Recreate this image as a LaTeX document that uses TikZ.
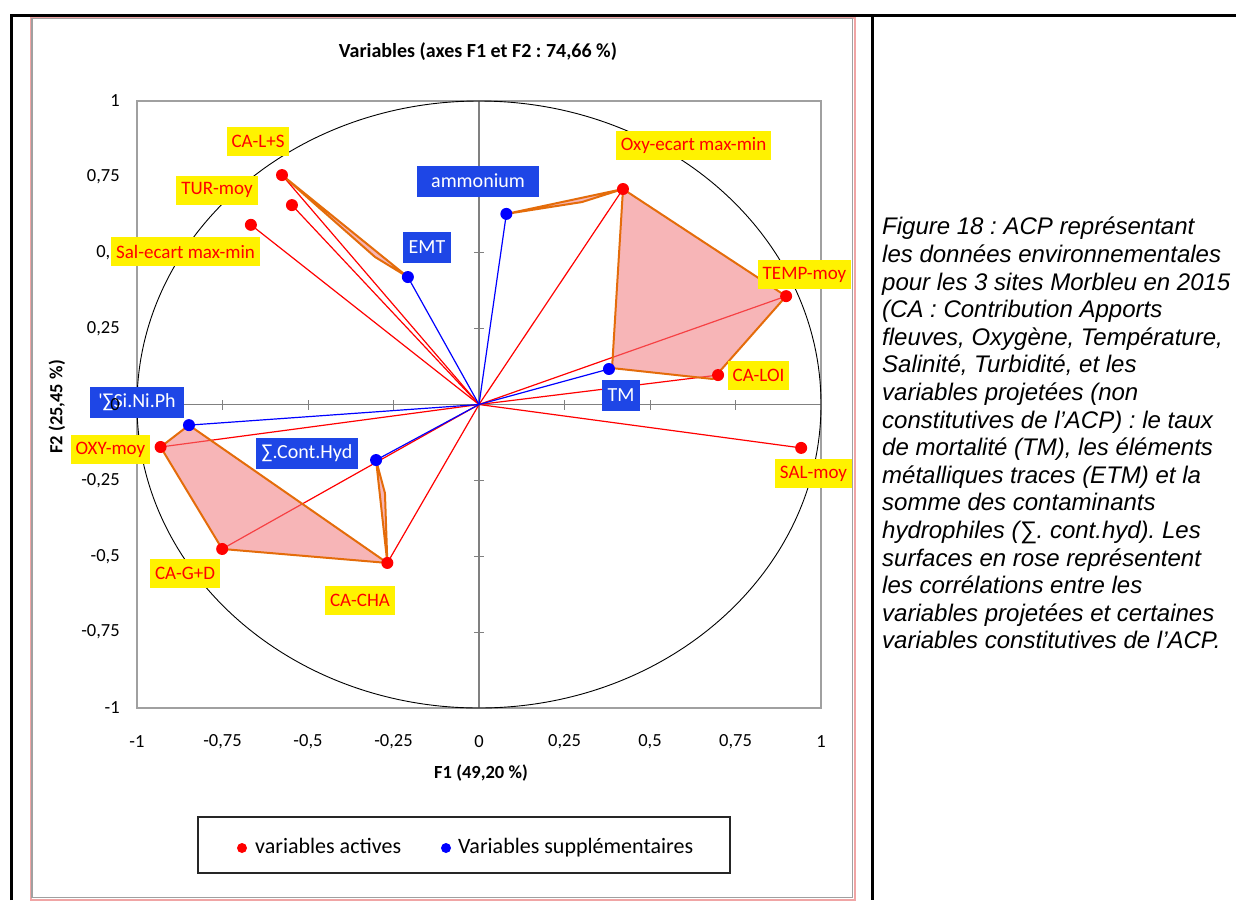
\documentclass[tikz,border=0pt]{standalone}
\usepackage{fontspec}
\newfontfamily\chartfont{Carlito}
\newfontfamily\capfont{Liberation Sans}
\usetikzlibrary{positioning}

\definecolor{boxblue}{RGB}{30,70,230}
\definecolor{polyfill}{RGB}{240,120,124}
\definecolor{polyline}{RGB}{228,108,10}
\definecolor{framegray}{RGB}{160,160,160}
\definecolor{axisgray}{RGB}{128,128,128}
\definecolor{edgepink}{RGB}{240,165,165}

\tikzset{
	act/.style={fill=yellow, text=red, font=\chartfont\fontsize{19}{19}\selectfont, inner xsep=5pt, inner ysep=0pt, minimum height=29pt},
	supp/.style={fill=boxblue, text=white, font=\chartfont\fontsize{20}{20}\selectfont, inner xsep=6pt, inner ysep=0pt, minimum height=31pt},
	ticklab/.style={font=\chartfont\fontsize{18.5}{18.5}\selectfont, inner sep=0pt},
	axlab/.style={font=\chartfont\bfseries\fontsize{18.5}{18.5}\selectfont, inner sep=0pt},
	legtext/.style={font=\chartfont\fontsize{22}{22}\selectfont, inner sep=0pt, text height=15pt, text depth=5pt},
	corr/.style={fill=polyfill, fill opacity=0.55, draw=polyline, draw opacity=1, line width=2pt, line join=round},
	actline/.style={red, line width=1.2pt},
	suppline/.style={blue, line width=1.2pt}
}

\begin{document}
\frenchspacing
\begin{tikzpicture}[x=1pt, y=-1pt]
		\useasboundingbox (0,0) rectangle (1236,900);
		
		%Page frame
		\draw[line width=3pt] (11,900) -- (11,15) -- (1236,15);
		\draw[line width=3pt] (872,15) -- (872,900);
		
		%Chart area
		\draw[edgepink, line width=2pt] (31,17.5) rectangle (855,899.5);
		\draw[framegray, line width=1.2pt] (32,18.5) rectangle (852.5,897.5);
		\node[axlab, font=\chartfont\bfseries\fontsize{20}{20}\selectfont] (title) at (478,52) {Variables (axes F1 et F2 : 74,66 \%)};
		
		\begin{scope}[shift={(479,404.5)}, x=342pt, y=303.5pt]
			%Plot box, axes and ticks
			\draw[framegray, line width=1.2pt] (-1,-1) rectangle (1,1);
			\draw[axisgray, line width=1.5pt] (-1,0) -- (1,0);
			\draw[axisgray, line width=1.5pt] (0,-1) -- (0,1);
			\foreach \t in {-0.75,-0.5,-0.25,0.25,0.5,0.75}{
				\draw[axisgray, line width=1pt] (\t,0) ++(0,-5pt) -- ++(0,10pt);
				\draw[axisgray, line width=1pt] (0,\t) ++(-5pt,0) -- ++(10pt,0);
			}
			%Correlation circle
			\draw[line width=0.9pt] (0,0) circle (1);
			
			%Variables
			\coordinate (O) at (0,0);
			\coordinate (cals) at (-0.576,0.756);
			\coordinate (turm) at (-0.547,0.657);
			\coordinate (salec) at (-0.667,0.592);
			\coordinate (oxyec) at (0.421,0.710);
			\coordinate (temp) at (0.898,0.357);
			\coordinate (caloi) at (0.699,0.097);
			\coordinate (salm) at (0.942,-0.143);
			\coordinate (oxym) at (-0.931,-0.140);
			\coordinate (cagd) at (-0.751,-0.476);
			\coordinate (cacha) at (-0.268,-0.522);
			\coordinate (amm) at (0.080,0.628);
			\coordinate (emt) at (-0.208,0.420);
			\coordinate (tm) at (0.380,0.117);
			\coordinate (sinp) at (-0.848,-0.068);
			\coordinate (conth) at (-0.301,-0.183);
			
			\foreach \v in {cals,turm,salec,oxyec,temp,caloi,salm,oxym,cagd,cacha}
				\draw[actline] (O) -- (\v);
			\foreach \v in {amm,emt,tm,sinp,conth}
				\draw[suppline] (O) -- (\v);
			
			%Pink surfaces
			\draw[corr] (cals) -- (-0.304,0.486) -- (emt) -- cycle;
			\draw[corr] (amm) -- (0.301,0.667) -- (oxyec) -- cycle;
			\draw[corr] (oxyec) -- (temp) -- (0.684,0.084) -- (0.389,0.120) -- cycle;
			\draw[corr] (sinp) -- (cacha) -- (cagd) -- (oxym) -- cycle;
			\draw[corr] (conth) -- (-0.275,-0.292) -- (cacha) -- cycle;
			
			\foreach \v in {cals,turm,salec,oxyec,temp,caloi,salm,oxym,cagd,cacha}
				\fill[red] (\v) circle (6pt);
			\foreach \v in {amm,emt,tm,sinp,conth}
				\fill[blue] (\v) circle (6pt);
			
			%Tick labels
			\foreach \v/\t [count=\i] in {-1/-1,-0.75/{-0,75},-0.5/{-0,5},-0.25/{-0,25},0/0,0.25/{0,25},0.5/{0,5},0.75/{0,75},1/1}
				\node[ticklab] (xt\i) at (\v,-1.11) {\t};
			\foreach \v/\t [count=\i] in {-1/-1,-0.75/{-0,75},-0.5/{-0,5},-0.25/{-0,25},0.25/{0,25},0.5/{0,5},0.75/{0,75},1/1}
				\node[ticklab, anchor=east] (yt\i) at (-1.05,\v) {\t};
		\end{scope}
		
		%Labels of the variables
		\node[act] (lcals) at (258,141) {CA-L+S};
		\node[act] (lturm) at (217,190) {TUR-moy};
		\node[act] (lsalec) at (185.5,251.5) {Sal-ecart max-min};
		\node[act] (loxyec) at (693.5,145) {Oxy-ecart max-min};
		\node[act] (ltemp) at (804.5,274.5) {TEMP-moy};
		\node[act] (lcaloi) at (758.5,375) {CA-LOI};
		\node[act] (lsalm) at (813.5,473.5) {SAL-moy};
		\node[act] (loxym) at (110.5,449.5) {OXY-moy};
		\node[act] (lcagd) at (185,573.5) {CA-G+D};
		\node[act] (lcacha) at (360,600) {CA-CHA};
		\node[supp, minimum width=122pt] (lamm) at (478,181) {ammonium};
		\node[supp] (lemt) at (427,247.5) {EMT};
		\node[supp] (ltm) at (621,395) {TM};
		\node[supp, minimum width=94pt] (lsinp) at (137,402) {'∑Si.Ni.Ph};
		\node[supp] (lconth) at (307,453.5) {∑.Cont.Hyd};
		\node[ticklab, anchor=east] (yt0) at (120,404.5) {0};
		
		%Axis titles
		\node[axlab] (f1) at (481,773) {F1 (49,20 \%)};
		\node[axlab, rotate=90] (f2) at (57,407) {F2 (25,45 \%)};
		
		%Legend
		\draw[black!85, line width=1.2pt] (198,817) rectangle (730,873);
		\coordinate (rd) at (242,848);
		\coordinate (bd) at (446,848);
		\fill[red] (rd) circle (5pt);
		\fill[blue] (bd) circle (5pt);
		\node[legtext, right=13pt of rd] (lact) {variables actives};
		\node[legtext, right=12pt of bd] (lsupp) {Variables supplémentaires};
		
		%Caption
		\node[anchor=north west, align=left, inner sep=0pt, font=\capfont\itshape\fontsize{24}{27.6}\selectfont] (cap) at (882,217) {Figure 18 : ACP représentant\\
			les données environnementales\\
			pour les 3 sites Morbleu en 2015\\
			(CA : Contribution Apports\\
			fleuves, Oxygène, Température,\\
			Salinité, Turbidité, et les\\
			variables projetées (non\\
			constitutives de l’ACP) : le taux\\
			de mortalité (TM), les éléments\\
			métalliques traces (ETM) et la\\
			somme des contaminants\\
			hydrophiles (∑. cont.hyd). Les\\
			surfaces en rose représentent\\
			les corrélations entre les\\
			variables projetées et certaines\\
			variables constitutives de l’ACP.};
		
	\end{tikzpicture}
\end{document}
